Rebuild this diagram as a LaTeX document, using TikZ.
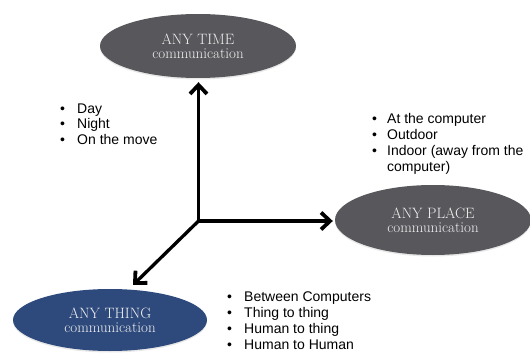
\documentclass[tikz,border=0pt]{standalone}
\usepackage{fontspec}
\newfontfamily\arial{Liberation Sans}
\usetikzlibrary{shapes.geometric,arrows.meta,shadows}
\definecolor{ellgray}{RGB}{88,88,92}
\definecolor{ellblue}{RGB}{46,74,124}
\definecolor{elltext}{RGB}{240,240,240}
\newcommand{\bul}[1]{\makebox[#1][l]{\textbullet}}
\begin{document}
\begin{tikzpicture}[x=1pt,y=-1pt,
  ell/.style={ellipse, draw=none, inner sep=0pt, text=elltext, align=center,
    font=\fontsize{15}{14}\selectfont,
    drop shadow={opacity=0.18, shadow xshift=0pt, shadow yshift=-1.5pt}},
  axis/.style={line width=3.3pt, line join=miter},
  tipS/.tip={Straight Barb[length=9pt,width=17pt,line width=3.8pt]},
  blist/.style={anchor=base west, inner sep=0pt, align=left,
    font=\arial\fontsize{14}{16}\selectfont}]
\useasboundingbox[fill=white] (0,0) rectangle (530,353);
\node[ell, fill=ellgray, minimum width=196pt, minimum height=64pt] (time) at (198,46) {ANY TIME\\communication};
\node[ell, fill=ellgray, minimum width=196pt, minimum height=70pt] (place) at (433,220) {ANY PLACE\\communication};
\node[ell, fill=ellblue, minimum width=194pt, minimum height=62pt] (thing) at (110,320) {ANY THING\\communication};
\coordinate (o) at (198.5,221);
\coordinate (tip) at (133,285);
\draw[axis, tipS-tipS, shorten <=4pt, shorten >=2pt] (o |- time.south) -- (o) -- (o -| place.west);
\draw[axis, -tipS] (o) -- (tip);
\node[blist] (lt) at (60,113) {\begin{tabular}[t]{@{}l@{}}\bul{17pt}Day\\ \bul{17pt}Night\\ \bul{17pt}On the move\end{tabular}};
\node[blist] (lp) at (372,123) {\begin{tabular}[t]{@{}l@{}}\bul{15pt}At the computer\\ \bul{15pt}Outdoor\\ \bul{15pt}Indoor (away from the\\ \hspace*{15pt}computer)\end{tabular}};
\node[blist] (lg) at (227,301) {\begin{tabular}[t]{@{}l@{}}\bul{17pt}Between Computers\\ \bul{17pt}Thing to thing\\ \bul{17pt}Human to thing\\ \bul{17pt}Human to Human\end{tabular}};
\end{tikzpicture}
\end{document}
